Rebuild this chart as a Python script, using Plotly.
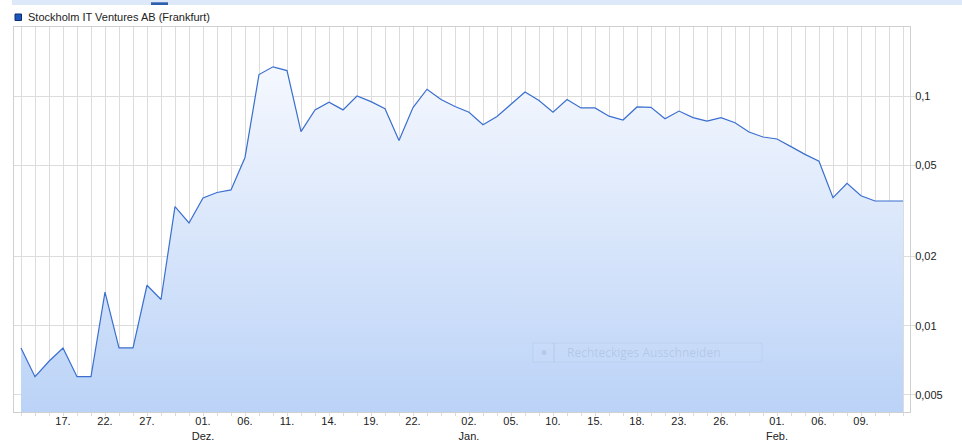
import plotly.graph_objects as go

# ---- data ----
dates = [
    "2017-11-14", "2017-11-15", "2017-11-16", "2017-11-17", "2017-11-20", "2017-11-21",
    "2017-11-22", "2017-11-23", "2017-11-24", "2017-11-27", "2017-11-28", "2017-11-29",
    "2017-11-30", "2017-12-01", "2017-12-04", "2017-12-05", "2017-12-06", "2017-12-07",
    "2017-12-08", "2017-12-11", "2017-12-12", "2017-12-13", "2017-12-14", "2017-12-15",
    "2017-12-18", "2017-12-19", "2017-12-20", "2017-12-21", "2017-12-22", "2017-12-27",
    "2017-12-28", "2017-12-29", "2018-01-02", "2018-01-03", "2018-01-04", "2018-01-05",
    "2018-01-08", "2018-01-09", "2018-01-10", "2018-01-11", "2018-01-12", "2018-01-15",
    "2018-01-16", "2018-01-17", "2018-01-18", "2018-01-19", "2018-01-22", "2018-01-23",
    "2018-01-24", "2018-01-25", "2018-01-26", "2018-01-29", "2018-01-30", "2018-01-31",
    "2018-02-01", "2018-02-02", "2018-02-05", "2018-02-06", "2018-02-07", "2018-02-08",
    "2018-02-09", "2018-02-12", "2018-02-13", "2018-02-14",
]

prices = [
    0.0080, 0.0060, 0.0070, 0.0080, 0.0060, 0.0060, 0.0140, 0.0080, 0.0080, 0.0150,
    0.0130, 0.0330, 0.0280, 0.0360, 0.0380, 0.0390, 0.0540, 0.1240, 0.1340, 0.1290,
    0.0700, 0.0870, 0.0940, 0.0870, 0.1000, 0.0945, 0.0880, 0.0640, 0.0890, 0.1070,
    0.0965, 0.0900, 0.0850, 0.0750, 0.0815, 0.0920, 0.1040, 0.0955, 0.0850, 0.0965,
    0.0887, 0.0887, 0.0817, 0.0786, 0.0896, 0.0893, 0.0796, 0.0860, 0.0805, 0.0778,
    0.0805, 0.0765, 0.0697, 0.0663, 0.0650, 0.0602, 0.0557, 0.0520, 0.0361, 0.0417,
    0.0368, 0.0349, 0.0349, 0.0349,
]

x_labels = {
    "2017-11-17": "17.", "2017-11-22": "22.", "2017-11-27": "27.",
    "2017-12-01": "01.<br>Dez.", "2017-12-06": "06.", "2017-12-11": "11.",
    "2017-12-14": "14.", "2017-12-19": "19.", "2017-12-22": "22.",
    "2018-01-02": "02.<br>Jan.", "2018-01-05": "05.", "2018-01-10": "10.",
    "2018-01-15": "15.", "2018-01-18": "18.", "2018-01-23": "23.",
    "2018-01-26": "26.", "2018-02-01": "01.<br>Feb.", "2018-02-06": "06.",
    "2018-02-09": "09.",
}

y_ticks = [0.005, 0.01, 0.02, 0.05, 0.1]
y_ticktext = ["0,005", "0,01", "0,02", "0,05", "0,1"]

series_name = "Stockholm IT Ventures AB (Frankfurt)"

# ---- figure ----
FONT = "Liberation Sans, Arial, sans-serif"
GRID = "#dcdcdc"

fig = go.Figure()
fig.add_trace(go.Scatter(
    x=dates, y=prices, name=series_name, mode="lines",
    line=dict(color="#3a6fcf", width=1.2),
    fill="tozeroy",
    fillgradient=dict(type="vertical", start=0.00425, stop=0.134,
                      colorscale=[[0, "#bbd3f7"], [1, "#f5f8fe"]]),
    showlegend=False, hoverinfo="x+y",
))

fig.update_layout(
    width=962, height=445,
    margin=dict(l=14, r=52, t=27, b=33, autoexpand=False),
    paper_bgcolor="white", plot_bgcolor="white",
    font=dict(family=FONT, size=11, color="#222222"),
    showlegend=False,
)

fig.update_xaxes(
    type="category",
    categoryorder="array", categoryarray=dates,
    tickmode="array", tickvals=dates,
    ticktext=[x_labels.get(d, "") for d in dates],
    showgrid=True, gridcolor=GRID, gridwidth=1,
    ticks="outside", ticklen=3, tickcolor=GRID,
    ticklabelstandoff=-4,
    showline=True, linecolor="#d0d0d0", mirror=True,
    tickfont=dict(size=11, color="#222222"),
    range=[-0.5, len(dates) - 0.5],
    zeroline=False, automargin=False,
)

fig.update_yaxes(
    type="log", side="right",
    range=[-2.3757, -0.6996],
    tickmode="array", tickvals=y_ticks, ticktext=y_ticktext,
    showgrid=True, gridcolor=GRID, gridwidth=1,
    ticks="outside", ticklen=4, tickcolor=GRID,
    ticklabelstandoff=-2,
    showline=True, linecolor="#d0d0d0", mirror=True,
    tickfont=dict(size=11, color="#222222"),
    zeroline=False, automargin=False,
)

# plot area: x 14..910 px, y 27..412 px
def px(xp):
    return (xp - 14) / 896.0

def py(yp):
    return (412 - yp) / 385.0

shapes = [
    # top navigator band
    dict(type="rect", xref="paper", yref="paper", x0=px(12), x1=px(962),
         y0=py(5), y1=py(0), fillcolor="#dde8f8", line=dict(width=0), layer="above"),
    dict(type="rect", xref="paper", yref="paper", x0=px(151), x1=px(168),
         y0=py(5), y1=py(2.3), fillcolor="#2d5fae", line=dict(width=0), layer="above"),
    # legend square
    dict(type="rect", xref="paper", yref="paper", x0=px(15), x1=px(21.5),
         y0=py(20.5), y1=py(14), fillcolor="#1a56bc",
         line=dict(color="#0e2b6b", width=1), layer="above"),
    # faint overlay boxes
    dict(type="rect", xref="paper", yref="paper", x0=px(533), x1=px(554),
         y0=py(362), y1=py(343), fillcolor="rgba(255,255,255,0.04)",
         line=dict(color="rgba(120,140,180,0.12)", width=1), layer="above"),
    dict(type="rect", xref="paper", yref="paper", x0=px(554), x1=px(762),
         y0=py(362), y1=py(343), fillcolor="rgba(255,255,255,0.03)",
         line=dict(color="rgba(120,140,180,0.10)", width=1), layer="above"),
    dict(type="circle", xref="paper", yref="paper", x0=px(541.5), x1=px(546.5),
         y0=py(355), y1=py(350), fillcolor="rgba(130,150,190,0.25)",
         line=dict(width=0), layer="above"),
]
fig.update_layout(shapes=shapes)

fig.add_annotation(
    xref="paper", yref="paper", x=px(26), y=py(16.8),
    xanchor="left", yanchor="middle", showarrow=False,
    text=series_name, font=dict(family=FONT, size=11, color="#222222"),
)
fig.add_annotation(
    xref="paper", yref="paper", x=px(565), y=py(352.5),
    xanchor="left", yanchor="middle", showarrow=False,
    text="Rechteckiges Ausschneiden",
    font=dict(family="Open Sans, Noto Sans, sans-serif", size=12,
              color="rgba(110,130,165,0.22)"),
)

fig.write_html(
    "out.html",
    config={"displayModeBar": False},
    post_script="document.body.style.margin='0';document.body.style.padding='0';",
)
